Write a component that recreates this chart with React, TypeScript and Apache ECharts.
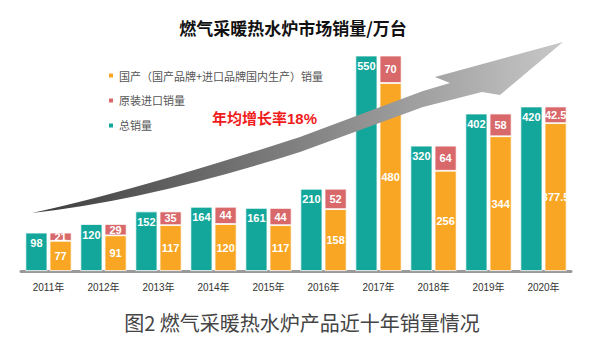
import React, { useEffect, useRef } from "react";
import * as echarts from "echarts";

const years = ["2011年", "2012年", "2013年", "2014年", "2015年", "2016年", "2017年", "2018年", "2019年", "2020年"];
const totalSales = [98, 120, 152, 164, 161, 210, 550, 320, 402, 420];
const domesticSales = [77, 91, 117, 120, 117, 158, 480, 256, 344, 377.5];
const importSales = [21, 29, 35, 44, 44, 52, 70, 64, 58, 42.5];

const NAME_DOMESTIC = "国产（国产品牌+进口品牌国内生产）销量";
const NAME_IMPORT = "原装进口销量";
const NAME_TOTAL = "总销量";

const ARROW_D =
  "M32,213 Q130,192 300,137 L423,91 L450,83 L435,77 L563,42 L500,95 L482,92 L423,107 L300,152 Q150,200 32,213 Z";

let registered = false;

export default function App() {
  const ref = useRef<HTMLDivElement>(null);
  useEffect(() => {
    document.body.style.margin = "0";
    if (!registered) {
      echarts.graphic.registerShape("growArrow", echarts.graphic.extendPath(ARROW_D, {}));
      registered = true;
    }
    const chart = echarts.init(ref.current!, null, { renderer: "svg" });
    const barLabel = {
      show: true,
      color: "#fff",
      fontSize: 11,
      fontWeight: "bold" as const,
      fontFamily: "Liberation Sans, Arial, sans-serif",
    };
    chart.setOption({
      animation: false,
      backgroundColor: "#fff",
      grid: { left: 21, right: 29, top: 36, bottom: 81, containLabel: false },
      legend: {
        orient: "vertical",
        left: 102,
        top: 65,
        itemGap: 14,
        itemWidth: 6,
        itemHeight: 6,
        icon: "rect",
        data: [NAME_DOMESTIC, NAME_IMPORT, NAME_TOTAL],
        textStyle: { fontSize: 11, color: "#555", fontFamily: "Noto Sans CJK SC", padding: [0, 0, 0, 0] },
      },
      xAxis: {
        type: "category",
        data: years,
        axisLine: { lineStyle: { color: "#999", width: 3 } },
        axisTick: { show: false },
        axisLabel: { color: "#333", fontSize: 10, margin: 11, fontFamily: "Liberation Sans, Noto Sans CJK SC" },
      },
      yAxis: {
        type: "value",
        min: 0,
        max: 600,
        show: false,
        splitLine: { show: false },
      },
      series: [
        {
          name: NAME_TOTAL,
          type: "bar",
          data: totalSales,
          barWidth: 22,
          barGap: "10%",
          itemStyle: { color: "#13a79c", borderColor: "#fff", borderWidth: 0.8 },
          label: { ...barLabel, position: "insideTop", distance: 5 },
        },
        {
          name: NAME_DOMESTIC,
          type: "bar",
          stack: "split",
          data: domesticSales,
          barWidth: 22,
          itemStyle: { color: "#f8a624", borderColor: "#fff", borderWidth: 0.8 },
          label: { ...barLabel, position: "inside" },
        },
        {
          name: NAME_IMPORT,
          type: "bar",
          stack: "split",
          data: importSales,
          barWidth: 22,
          itemStyle: { color: "#d9686a", borderColor: "#fff", borderWidth: 0.8 },
          label: { ...barLabel, position: "inside" },
        },
      ],
      graphic: [
        {
          type: "growArrow",
          x: 0,
          y: 0,
          z: 100,
          silent: true,
          style: {
            fill: new echarts.graphic.LinearGradient(0, 0, 1, 0, [
              { offset: 0, color: "#3c3c3c" },
              { offset: 0.45, color: "#7a7a7a" },
              { offset: 0.8, color: "#aaaaaa" },
              { offset: 1, color: "#c8c8c8" },
            ]),
          },
        },
        {
          type: "text",
          x: 293,
          y: 27,
          z: 101,
          style: {
            text: "燃气采暖热水炉市场销量/万台",
            fontSize: 17,
            fontWeight: "bold",
            fill: "#111",
            fontFamily: "Noto Sans CJK SC",
            textAlign: "center",
            textVerticalAlign: "middle",
          },
        },
        {
          type: "text",
          x: 212,
          y: 118,
          z: 101,
          style: {
            text: "年均增长率18%",
            fontSize: 15,
            fontWeight: "bold",
            fill: "#f01c1c",
            fontFamily: "Liberation Sans, Noto Sans CJK SC",
            textAlign: "left",
            textVerticalAlign: "middle",
          },
        },
        {
          type: "text",
          x: 302,
          y: 322,
          z: 101,
          style: {
            text: "图2 燃气采暖热水炉产品近十年销量情况",
            fontSize: 20,
            fill: "#444",
            fontFamily: "Noto Sans CJK SC",
            textAlign: "center",
            textVerticalAlign: "middle",
          },
        },
      ],
    });
    return () => chart.dispose();
  }, []);
  return <div ref={ref} style={{ width: 600, height: 352 }} />;
}
